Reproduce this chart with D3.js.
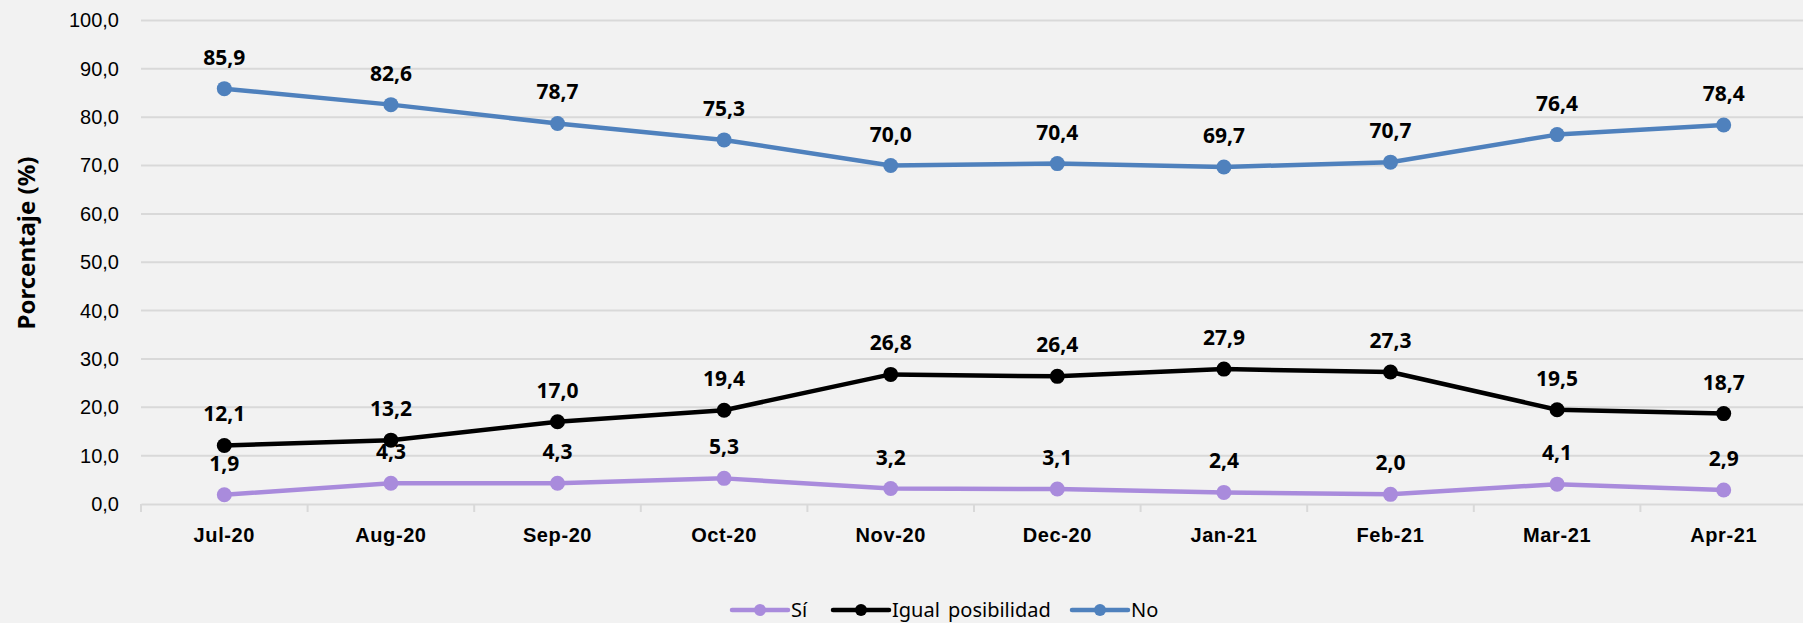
<!DOCTYPE html>
<html>
<head>
  <title>Porcentaje por mes</title>
  <script src="https://d3js.org/d3.v7.min.js"></script>
  <style>
    body { margin: 0; background: #f2f2f2; }
    svg { display: block; font-family: "Noto Sans", "Open Sans", sans-serif; }
  </style>
</head>
<body>
  <div id="chart"></div>

  <script>
    const months = ["Jul-20", "Aug-20", "Sep-20", "Oct-20", "Nov-20", "Dec-20", "Jan-21", "Feb-21", "Mar-21", "Apr-21"];
    const siValues = [1.9, 4.3, 4.3, 5.3, 3.2, 3.1, 2.4, 2.0, 4.1, 2.9];
    const igualValues = [12.1, 13.2, 17.0, 19.4, 26.8, 26.4, 27.9, 27.3, 19.5, 18.7];
    const noValues = [85.9, 82.6, 78.7, 75.3, 70.0, 70.4, 69.7, 70.7, 76.4, 78.4];
    const yTicks = [0, 10, 20, 30, 40, 50, 60, 70, 80, 90, 100];

    const series = [
      { name: "Sí", values: siValues, color: "#a98bdc" },
      { name: "Igual posibilidad", values: igualValues, color: "#000000" },
      { name: "No", values: noValues, color: "#4f81bd" }
    ];

    const width = 1803, height = 623;
    const margin = { top: 20.5, left: 141, bottom: 119 };
    const plotW = 1666;
    const plotH = height - margin.top - margin.bottom;

    const fmt = d3.formatLocale({ decimal: ",", thousands: ".", grouping: [3], currency: ["", ""] }).format(".1f");

    const svg = d3.select("#chart")
      .append("svg")
      .attr("width", width)
      .attr("height", height);

    const g = svg.append("g")
      .attr("transform", "translate(" + margin.left + "," + margin.top + ")");

    const xScale = d3.scaleBand()
      .domain(months)
      .range([0, plotW]);

    const yScale = d3.scaleLinear()
      .domain([0, 100])
      .range([plotH, 0]);

    // gridlines
    g.append("g")
      .selectAll("line")
      .data(yTicks.filter(d => d > 0))
      .enter()
      .append("line")
      .attr("x1", 0)
      .attr("x2", plotW)
      .attr("y1", d => yScale(d))
      .attr("y2", d => yScale(d))
      .attr("stroke", "#d9d9d9")
      .attr("stroke-width", 2);

    // y axis labels
    const yAxis = g.append("g")
      .call(d3.axisLeft(yScale).tickValues(yTicks).tickFormat(fmt).tickSize(0).tickPadding(22));
    yAxis.select(".domain").remove();
    yAxis.selectAll("text")
      .style("font-size", "20px")
      .attr("fill", "#000");

    // x axis
    const xAxis = g.append("g")
      .attr("transform", "translate(0," + plotH + ")")
      .call(d3.axisBottom(xScale).tickSize(0).tickPadding(24));
    xAxis.select(".domain").attr("stroke", "#d9d9d9").attr("stroke-width", 2);
    xAxis.selectAll("text")
      .style("font-size", "20px")
      .style("font-weight", "bold")
      .style("letter-spacing", "0.6px")
      .attr("fill", "#000");

    // tick marks between categories
    g.append("g")
      .selectAll("line")
      .data(d3.range(months.length + 1))
      .enter()
      .append("line")
      .attr("x1", d => d * xScale.step())
      .attr("x2", d => d * xScale.step())
      .attr("y1", plotH)
      .attr("y2", plotH + 8)
      .attr("stroke", "#d9d9d9")
      .attr("stroke-width", 2);

    const cx = d => xScale(d) + xScale.bandwidth() / 2;

    const line = d3.line()
      .x((d, i) => cx(months[i]))
      .y(d => yScale(d));

    series.forEach(function(s) {
      g.append("path")
        .datum(s.values)
        .attr("fill", "none")
        .attr("stroke", s.color)
        .attr("stroke-width", 4.5)
        .attr("stroke-linejoin", "round")
        .attr("d", line);

      g.selectAll(".dot-" + s.name)
        .data(s.values)
        .enter()
        .append("circle")
        .attr("cx", (d, i) => cx(months[i]))
        .attr("cy", d => yScale(d))
        .attr("r", 7.5)
        .attr("fill", s.color);
    });

    series.forEach(function(s) {
      g.selectAll(".lbl-" + s.name)
        .data(s.values)
        .enter()
        .append("text")
        .attr("x", (d, i) => cx(months[i]))
        .attr("y", d => yScale(d) - 24)
        .attr("text-anchor", "middle")
        .style("font-size", "21px")
        .style("font-weight", "bold")
        .attr("fill", "#000")
        .text(d => fmt(d));
    });

    // y axis title
    svg.append("text")
      .attr("transform", "translate(35,243) rotate(-90)")
      .attr("text-anchor", "middle")
      .style("font-size", "24px")
      .style("font-weight", "bold")
      .text("Porcentaje (%)");

    // legend
    const legendItems = [
      { x: 732, s: series[0] },
      { x: 833, s: series[1] },
      { x: 1072, s: series[2] }
    ];
    const legend = svg.append("g");
    legendItems.forEach(function(it) {
      legend.append("line")
        .attr("x1", it.x)
        .attr("x2", it.x + 56)
        .attr("y1", 610)
        .attr("y2", 610)
        .attr("stroke", it.s.color)
        .attr("stroke-width", 4.5)
        .attr("stroke-linecap", "round");
      legend.append("circle")
        .attr("cx", it.x + 28)
        .attr("cy", 610)
        .attr("r", 6)
        .attr("fill", it.s.color);
      legend.append("text")
        .attr("x", it.x + 59)
        .attr("y", 617)
        .style("font-size", "20px")
        .style("word-spacing", "3px")
        .text(it.s.name);
    });
  </script>
</body>
</html>
